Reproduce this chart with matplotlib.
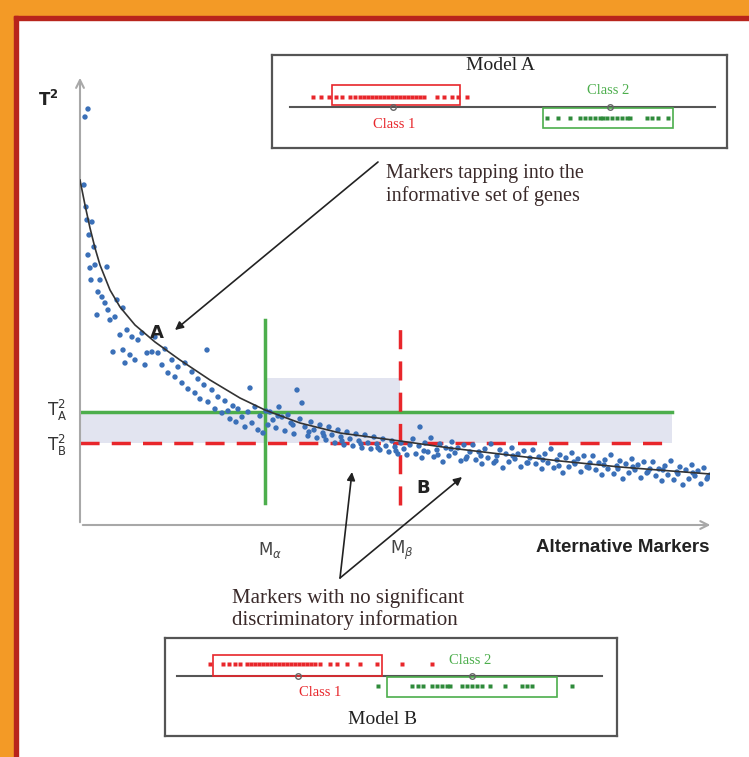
import numpy as np
import matplotlib.pyplot as plt
from matplotlib.patches import Rectangle

plt.rcParams['mathtext.fontset'] = 'dejavusans'

W, H = 749, 757

# fitted curve (marker rank, T^2)
curve_x = [0, 5, 10, 15, 20, 30, 40, 55, 75, 100, 130, 160, 185, 220, 260, 320, 370, 420, 480, 540, 630]
curve_y = [34.5, 32.0, 29.7, 27.7, 26.0, 23.5, 21.8, 20.0, 18.3, 16.5, 14.5, 12.7, 11.5, 10.2, 9.2, 8.4, 7.7, 7.1, 6.4, 5.8, 5.1]

# scatter of individual markers
pts_x = [5, 8, 4, 6, 7, 12, 9, 14, 8, 10, 11, 27, 15, 18, 20, 22, 25, 37, 28, 43, 17, 35, 30, 47, 40, 52, 58, 62, 33, 43, 50, 55, 67, 72, 65, 45,
         75, 78, 82, 85, 88, 92, 95, 98, 102, 105, 108, 112, 115, 118, 120, 124, 127, 128, 132, 135, 138, 142, 145, 148,
         150, 153, 156, 158, 162, 165, 168, 170, 172, 175, 178, 180, 183, 186, 188,
         190, 193, 196, 199, 202, 205, 208, 211, 214, 217, 220, 222, 225, 228, 231, 234, 237, 240, 243, 246, 249, 252, 255,
         258, 261, 264, 267, 270, 273, 276, 279, 282, 285, 288, 291, 294, 297, 300, 303, 306, 309, 312, 315, 318, 321, 324, 327, 330,
         333, 336, 339, 340, 342, 345, 348, 351, 354, 357, 360, 363, 366, 369, 372, 375, 378, 381, 384, 387, 390, 393, 396, 399,
         402, 405, 408, 411, 414, 417, 420, 423, 426, 429, 432, 435, 438, 441, 444, 447, 450, 453, 456, 459, 462, 465, 468,
         471, 474, 477, 480, 483, 486, 489, 492, 495, 498, 501, 504, 507, 510, 513, 516, 519, 522, 525, 528, 531, 534, 537,
         540, 543, 546, 549, 552, 555, 558, 561, 564, 567, 570, 573, 576, 579, 582, 585, 588, 591, 594, 597, 600, 603, 606,
         609, 612, 615, 618, 621, 624, 627, 630,
         344, 358, 371, 386, 401, 416, 433, 448, 463, 479, 494, 509, 524, 538, 553, 568, 583, 598, 613, 628,
         198, 213, 229, 244, 262, 281, 298, 316]
pts_y = [40.8, 41.6, 34.0, 31.8, 30.5, 30.3, 29.0, 27.8, 27.0, 25.7, 24.5, 25.8, 26.0, 23.3, 24.5, 22.8, 22.2, 22.5, 21.5, 21.7, 21.0, 20.8, 20.5, 19.5, 19.0, 18.8, 18.5, 19.2, 17.3, 17.5, 17.0, 16.5, 17.2, 17.3, 16.0, 16.2,
         18.8, 17.2, 16.0, 17.6, 15.2, 16.5, 14.8, 15.8, 14.2, 16.2, 13.6, 15.3, 13.2, 14.6, 12.6, 14.0, 17.5, 12.3, 13.5, 11.6, 12.8, 11.2, 12.4, 11.4,
         10.6, 11.9, 10.3, 11.6, 10.8, 9.8, 11.3, 13.7, 10.2, 11.8, 9.5, 10.9, 9.2, 11.4, 10.0,
         11.3, 10.5, 9.7, 11.8, 10.8, 9.4, 11.0, 10.2, 9.1, 13.5, 10.6, 12.2, 9.8, 8.9, 10.3, 9.5, 8.7, 10.0, 9.2, 8.5, 9.8, 9.0, 8.2,
         9.5, 8.8, 8.0, 9.3, 8.6, 7.9, 9.1, 8.4, 7.7, 9.0, 8.2, 7.6, 8.8, 8.1, 7.5, 8.6, 7.9, 7.3, 8.4, 7.8, 7.1, 8.2, 7.6, 7.0, 8.0,
         8.6, 7.1, 7.9, 9.8, 6.7, 8.2, 7.3, 8.7, 6.8, 7.5, 8.1, 6.3, 7.7, 6.9, 8.3, 7.2, 7.7, 6.4, 8.0, 6.8, 7.3, 8.0, 6.5, 7.3,
         6.1, 7.6, 6.7, 8.1, 6.2, 6.9, 7.5, 5.7, 7.1, 6.3, 7.7, 6.6, 7.1, 5.8, 7.4, 6.2, 6.7, 7.5, 6.1, 6.8, 5.6, 7.1, 6.2,
         7.6, 5.7, 6.5, 7.0, 5.2, 6.7, 5.8, 7.2, 6.1, 6.6, 5.3, 6.9, 5.8, 6.2, 6.9, 5.5, 6.2, 5.0, 6.5, 5.6, 7.0, 5.1, 5.9,
         6.4, 4.6, 6.1, 5.2, 6.6, 5.5, 6.0, 4.7, 6.3, 5.2, 5.6, 6.3, 4.9, 5.6, 4.4, 5.9, 5.0, 6.4, 4.5, 5.3, 5.8, 4.0, 5.5,
         4.6, 6.0, 4.9, 5.4, 4.1, 5.7, 4.6, 5.0,
         7.4, 7.0, 7.6, 6.6, 6.9, 6.4, 6.9, 6.2, 6.5, 5.9, 6.3, 5.7, 6.0, 5.6, 5.8, 5.3, 5.5, 5.1, 5.2, 4.8,
         10.9, 10.0, 9.3, 8.9, 8.4, 8.1, 7.7, 7.4]

t2_a, t2_b = 11.3, 8.2
m_alpha, m_beta = 185, 320

# Model A inset: class values along the inset axis
a_class1 = [41, 49, 57, 64, 70, 78, 83, 88, 92, 96, 100, 104, 108, 112, 116, 120, 124, 128, 132, 136, 140, 144, 148, 152, 165, 172, 180, 186, 195]
a_class2 = [275, 286, 298, 308, 313, 318, 323, 328, 331, 335, 340, 345, 350, 355, 358, 375, 380, 386, 396]
a_box1, a_box2 = (60, 188), (271, 401)
a_mean1, a_mean2 = 121, 338

# Model B inset
b_class1 = [45, 58, 64, 70, 75, 82, 86, 90, 94, 98, 102, 106, 110, 114, 118, 122, 126, 130, 134, 138, 142, 146, 150, 155, 165, 172, 182, 195, 212, 237, 267]
b_class2 = [213, 247, 253, 258, 267, 272, 277, 282, 285, 297, 302, 307, 312, 317, 325, 340, 357, 362, 367, 407]
b_box1, b_box2 = (48, 217), (222, 392)
b_mean1, b_mean2 = 133, 307

RED = '#e8262b'
GREEN = '#4cae4c'
BLUE = '#3b70b8'
SHADE = '#e2e4f0'
SERIF = 'Liberation Serif'

fig = plt.figure(figsize=(W / 100, H / 100), dpi=100)
fig.patch.set_facecolor('white')


def fx(px):
    return px / W


def fy(py):
    return 1 - py / H


# frame
fig.patches.append(Rectangle((0, fy(16)), 1, 16 / H, transform=fig.transFigure, color='#f39a26', zorder=0))
fig.patches.append(Rectangle((0, 0), 14 / W, 1, transform=fig.transFigure, color='#f39a26', zorder=0))
fig.patches.append(Rectangle((14 / W, fy(20)), 1, 4 / H, transform=fig.transFigure, color='#b8241c', zorder=0))
fig.patches.append(Rectangle((14 / W, 0), 4 / W, fy(16), transform=fig.transFigure, color='#b8241c', zorder=0))

# main plot
ax = fig.add_axes([fx(80), fy(525), 630 / W, 450 / H])
ax.set_xlim(0, 630)
ax.set_ylim(0, 45)
ax.axis('off')

ax.fill_between([0, 592], t2_b, t2_a, color=SHADE, lw=0, zorder=1)
ax.fill_between([m_alpha, m_beta], t2_a, 14.7, color=SHADE, lw=0, zorder=1)

ax.scatter(pts_x, pts_y, s=15, color=BLUE, edgecolor='none', zorder=3)
ax.plot(curve_x, curve_y, color='#333333', lw=1.2, zorder=4)

ax.plot([0, 592], [t2_a, t2_a], color=GREEN, lw=2.5, zorder=2)
ax.plot([m_alpha, m_alpha], [2.2, 20.5], color=GREEN, lw=2.5, zorder=2)
ax.plot([0, 592], [t2_b, t2_b], color=RED, lw=2.5, dashes=(5.5, 3.5), zorder=2)
ax.plot([m_beta, m_beta], [2.0, 20.5], color=RED, lw=2.5, dashes=(5.5, 3.5), zorder=2)

# axes arrows
arrow_kw = dict(arrowstyle='->', color='#a8a8a8', lw=1.5, mutation_scale=14)
ax.annotate('', xy=(0, 1.0), xytext=(0, 0), xycoords='axes fraction', arrowprops=arrow_kw)
ax.annotate('', xy=(1.005, 0), xytext=(0, 0), xycoords='axes fraction', arrowprops=arrow_kw)

# annotation arrows
ann_kw = dict(arrowstyle='-|>', color='#222222', lw=1.2, mutation_scale=12, shrinkA=0, shrinkB=0)
ax.annotate('', xy=(95, 19.5), xytext=(298, 36.3), arrowprops=ann_kw, annotation_clip=False)
ax.annotate('', xy=(272, 5.3), xytext=(260, -5.3), arrowprops=ann_kw, annotation_clip=False)
ax.annotate('', xy=(382, 4.8), xytext=(260, -5.3), arrowprops=ann_kw, annotation_clip=False)

ax.text(77, 19.2, 'A', fontsize=13, fontweight='bold', ha='center', va='center', color='#222222')
ax.text(343, 3.7, 'B', fontsize=13, fontweight='bold', ha='center', va='center', color='#222222')

fig.text(fx(48), fy(100), r'T$^\mathbf{2}$', fontsize=12, fontweight='bold', ha='center', va='center', color='#222222')
fig.text(fx(57), fy(410), r'T$^2_{\mathrm{A}}$', fontsize=12, ha='center', va='center', color='#333333')
fig.text(fx(57), fy(445), r'T$^2_{\mathrm{B}}$', fontsize=12, ha='center', va='center', color='#333333')
fig.text(fx(270), fy(550), r'M$_\alpha$', fontsize=12, ha='center', va='center', color='#444444')
fig.text(fx(402), fy(550), r'M$_\beta$', fontsize=12, ha='center', va='center', color='#444444')
fig.text(fx(623), fy(548), 'Alternative Markers', fontsize=13.5, fontweight='bold', ha='center', va='center',
         color='#222222', family='Liberation Sans')

fig.text(fx(386), fy(185), 'Markers tapping into the\ninformative set of genes', fontsize=14.5, family=SERIF,
         ha='left', va='center', color='#3a2a2a', linespacing=1.15)
fig.text(fx(232), fy(609), 'Markers with no significant\ndiscriminatory information', fontsize=15, family=SERIF,
         ha='left', va='center', color='#3a2a2a', linespacing=1.1)


def model_inset(rect, xmax, ymax, axis_y, axis_x, c1, c2, box1, box2, mean1, mean2,
                y1, y2, boxy1, boxy2, lab1, lab2, title, title_y):
    a = fig.add_axes(rect)
    a.set_xlim(0, xmax)
    a.set_ylim(0, ymax)
    a.set_xticks([])
    a.set_yticks([])
    for s in a.spines.values():
        s.set_color('#555555')
        s.set_linewidth(1.6)
    a.plot(axis_x, [axis_y, axis_y], color='#555555', lw=1.5, zorder=2)
    a.add_patch(Rectangle((box1[0], boxy1[0]), box1[1] - box1[0], boxy1[1] - boxy1[0],
                          fill=False, edgecolor=RED, lw=1.2, zorder=3))
    a.add_patch(Rectangle((box2[0], boxy2[0]), box2[1] - box2[0], boxy2[1] - boxy2[0],
                          fill=False, edgecolor=GREEN, lw=1.2, zorder=3))
    a.plot(c1, [y1] * len(c1), 's', ms=2.6, color=RED, mec='none', zorder=4)
    a.plot(c2, [y2] * len(c2), 's', ms=2.6, color='#2e8b3a', mec='none', zorder=4)
    a.plot([mean1, mean2], [axis_y, axis_y], 'o', ms=4, mfc='none', mec='#666666', mew=1, zorder=4)
    a.text(lab1[0], lab1[1], 'Class 1', fontsize=10.5, family=SERIF, color=RED, ha='center', va='center')
    a.text(lab2[0], lab2[1], 'Class 2', fontsize=10.5, family=SERIF, color=GREEN, ha='center', va='center')
    a.text(title[0], title[1], title_y, fontsize=14, family=SERIF, color='#222222', ha='center', va='center')
    return a


model_inset([fx(272), fy(148), 455 / W, 93 / H], 455, 93, 41, [18, 443],
            a_class1, a_class2, a_box1, a_box2, a_mean1, a_mean2,
            51, 30, (43, 63), (20, 40), (122, 23), (336, 58), (228, 82), 'Model A')

model_inset([fx(165), fy(736), 452 / W, 98 / H], 452, 98, 60, [12, 437],
            b_class1, b_class2, b_box1, b_box2, b_mean1, b_mean2,
            72, 50, (60, 81), (39, 59), (155, 43), (305, 76), (218, 17), 'Model B')

fig.savefig('out.png', dpi=100)
